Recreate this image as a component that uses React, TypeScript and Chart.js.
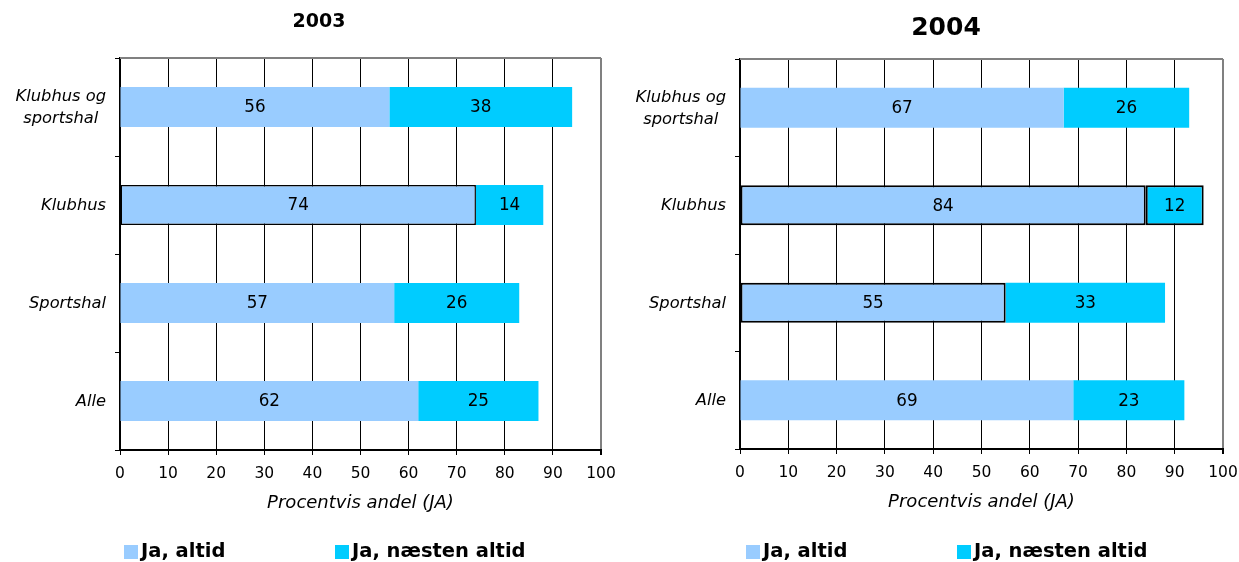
import React, { useEffect, useRef } from "react";
import { Chart, registerables } from "chart.js";

Chart.register(...registerables);

const categoryLabels: (string | string[])[] = [["Klubhus og", "sportshal"], "Klubhus", "Sportshal", "Alle"];
const seriesNames = ["Ja, altid", "Ja, næsten altid"];
const altid2003 = [56, 74, 57, 62];
const naesten2003 = [38, 14, 26, 25];
const altid2004 = [67, 84, 55, 69];
const naesten2004 = [26, 12, 33, 23];
const xTickValues = [0, 10, 20, 30, 40, 50, 60, 70, 80, 90, 100];
const axisTitle = "Procentvis andel (JA)";

const COLOR_ALTID = "#99CCFF";
const COLOR_NAESTEN = "#00CCFF";
const FONT = "'DejaVu Sans', Verdana, sans-serif";

// highlight borders per bar (style, not data)
const border2003Altid = [0, 1.5, 0, 0];
const border2003Naesten = [0, 0, 0, 0];
const border2004Altid = [0, 2, 2, 0];
const border2004Naesten = [0, 2, 0, 0];

const decoPlugin = {
  id: "deco",
  beforeDatasetsDraw(chart: any) {
    const { ctx, chartArea } = chart;
    ctx.save();
    ctx.strokeStyle = "#808080";
    ctx.lineWidth = 2;
    ctx.beginPath();
    ctx.moveTo(chartArea.left, chartArea.top);
    ctx.lineTo(chartArea.right, chartArea.top);
    ctx.stroke();
    ctx.restore();
  },
  afterDatasetsDraw(chart: any) {
    const { ctx } = chart;
    ctx.save();
    ctx.fillStyle = "#000";
    ctx.font = `16.8px ${FONT}`;
    ctx.textAlign = "center";
    ctx.textBaseline = "middle";
    chart.data.datasets.forEach((ds: any, di: number) => {
      const meta = chart.getDatasetMeta(di);
      meta.data.forEach((el: any, i: number) => {
        const cx = (el.x + el.base) / 2;
        ctx.fillText(String(ds.data[i]), cx, el.y + 1);
      });
    });
    ctx.restore();
  },
  afterDraw(chart: any, _args: any, opts: any) {
    const { ctx, chartArea } = chart;
    ctx.save();
    // category labels (right-aligned block, lines centred within block)
    const yScale = chart.scales.y;
    ctx.fillStyle = "#000";
    ctx.font = `italic 16.3px ${FONT}`;
    ctx.textBaseline = "middle";
    ctx.textAlign = "center";
    const lineH = 21.5;
    (chart.data.labels as any[]).forEach((lab: any, i: number) => {
      const lines: string[] = Array.isArray(lab) ? lab : [lab];
      const maxW = Math.max(...lines.map((l) => ctx.measureText(l).width));
      const rightX = yScale.right - 14;
      const yc = yScale.getPixelForTick(i) + 1;
      lines.forEach((l, j) => {
        ctx.fillText(l, rightX - maxW / 2, yc + (j - (lines.length - 1) / 2) * lineH);
      });
    });
    // title
    ctx.font = `bold ${opts.titleSize}px ${FONT}`;
    ctx.fillText(opts.title, opts.titleX, opts.titleY);
    // legend
    const offsets = [4, 215];
    ctx.font = `bold 19.5px ${FONT}`;
    ctx.textAlign = "left";
    chart.data.datasets.forEach((ds: any, di: number) => {
      const bx = chartArea.left + offsets[di] + opts.legendShift;
      const by = opts.legendY;
      ctx.fillStyle = ds.backgroundColor;
      ctx.fillRect(bx, by - 7, 14, 14);
      ctx.fillStyle = "#000";
      ctx.fillText(ds.label, bx + 17, by);
    });
    ctx.restore();
  },
};

type Cfg = {
  altid: number[];
  naesten: number[];
  bAltid: number[];
  bNaesten: number[];
  title: string;
  titleSize: number;
  titleX: number;
  titleY: number;
  padTop: number;
  padRight: number;
  padBottom: number;
  legendShift: number;
};

function BarChart({ cfg, width, height }: { cfg: Cfg; width: number; height: number }) {
  const ref = useRef<HTMLCanvasElement | null>(null);
  useEffect(() => {
    if (!ref.current) return;
    const chart = new Chart(ref.current, {
      type: "bar",
      data: {
        labels: categoryLabels as any,
        datasets: [
          {
            label: seriesNames[0],
            data: cfg.altid,
            backgroundColor: COLOR_ALTID,
            borderColor: "#000",
            borderWidth: cfg.bAltid,
            borderSkipped: false,
            categoryPercentage: 1,
            barPercentage: 0.41,
          },
          {
            label: seriesNames[1],
            data: cfg.naesten,
            backgroundColor: COLOR_NAESTEN,
            borderColor: "#000",
            borderWidth: cfg.bNaesten,
            borderSkipped: false,
            categoryPercentage: 1,
            barPercentage: 0.41,
          },
        ],
      },
      options: {
        indexAxis: "y",
        responsive: false,
        animation: false,
        layout: { padding: { left: 0, top: cfg.padTop, right: cfg.padRight, bottom: cfg.padBottom } },
        plugins: {
          legend: { display: false },
          title: { display: false },
          tooltip: { enabled: false },
          deco: {
            title: cfg.title,
            titleSize: cfg.titleSize,
            titleX: cfg.titleX,
            titleY: cfg.titleY,
            legendY: 552,
            legendShift: cfg.legendShift,
          },
        } as any,
        scales: {
          x: {
            stacked: true,
            min: 0,
            max: 100,
            afterBuildTicks: (scale: any) => {
              scale.ticks = xTickValues.map((v) => ({ value: v }));
            },
            afterFit: (scale: any) => {
              scale.height = 66;
              scale.paddingLeft = 0;
              scale.paddingRight = 0;
            },
            ticks: {
              color: "#000",
              font: { family: FONT, size: 15.5 },
              padding: 10,
              maxRotation: 0,
            },
            grid: {
              color: (c: any) => (c.tick && c.tick.value === 100 ? "#808080" : "#000"),
              lineWidth: (c: any) => (c.tick && c.tick.value === 100 ? 2 : 1),
              tickColor: "#000",
              tickLength: 5,
            },
            border: { color: "#000", width: 2 },
            title: {
              display: true,
              text: axisTitle,
              color: "#000",
              font: { family: FONT, size: 18, style: "italic" },
              padding: { top: 0, bottom: 2 },
            },
          },
          y: {
            stacked: true,
            afterFit: (scale: any) => {
              scale.width = 120;
            },
            ticks: { display: false },
            grid: {
              drawOnChartArea: false,
              drawTicks: true,
              tickLength: 5,
              tickColor: "#000",
              color: "#000",
            },
            border: { color: "#000", width: 2 },
          },
        },
      } as any,
      plugins: [decoPlugin],
    });
    return () => chart.destroy();
  }, [cfg]);
  return <canvas ref={ref} width={width} height={height} style={{ display: "block", width, height }} />;
}

const cfg2003: Cfg = {
  altid: altid2003,
  naesten: naesten2003,
  bAltid: border2003Altid,
  bNaesten: border2003Naesten,
  title: "2003",
  titleSize: 19,
  titleX: 319,
  titleY: 22,
  padTop: 58,
  padRight: 19,
  padBottom: 46,
  legendShift: 0,
};

const cfg2004: Cfg = {
  altid: altid2004,
  naesten: naesten2004,
  bAltid: border2004Altid,
  bNaesten: border2004Naesten,
  title: "2004",
  titleSize: 25,
  titleX: 326,
  titleY: 28,
  padTop: 59,
  padRight: 16,
  padBottom: 47,
  legendShift: 2,
};

export default function App() {
  return (
    <div style={{ position: "absolute", left: 0, top: 0, width: 1239, height: 562, background: "#fff" }}>
      <div style={{ position: "absolute", left: 0, top: 0 }}>
        <BarChart cfg={cfg2003} width={620} height={562} />
      </div>
      <div style={{ position: "absolute", left: 620, top: 0 }}>
        <BarChart cfg={cfg2004} width={619} height={562} />
      </div>
    </div>
  );
}
